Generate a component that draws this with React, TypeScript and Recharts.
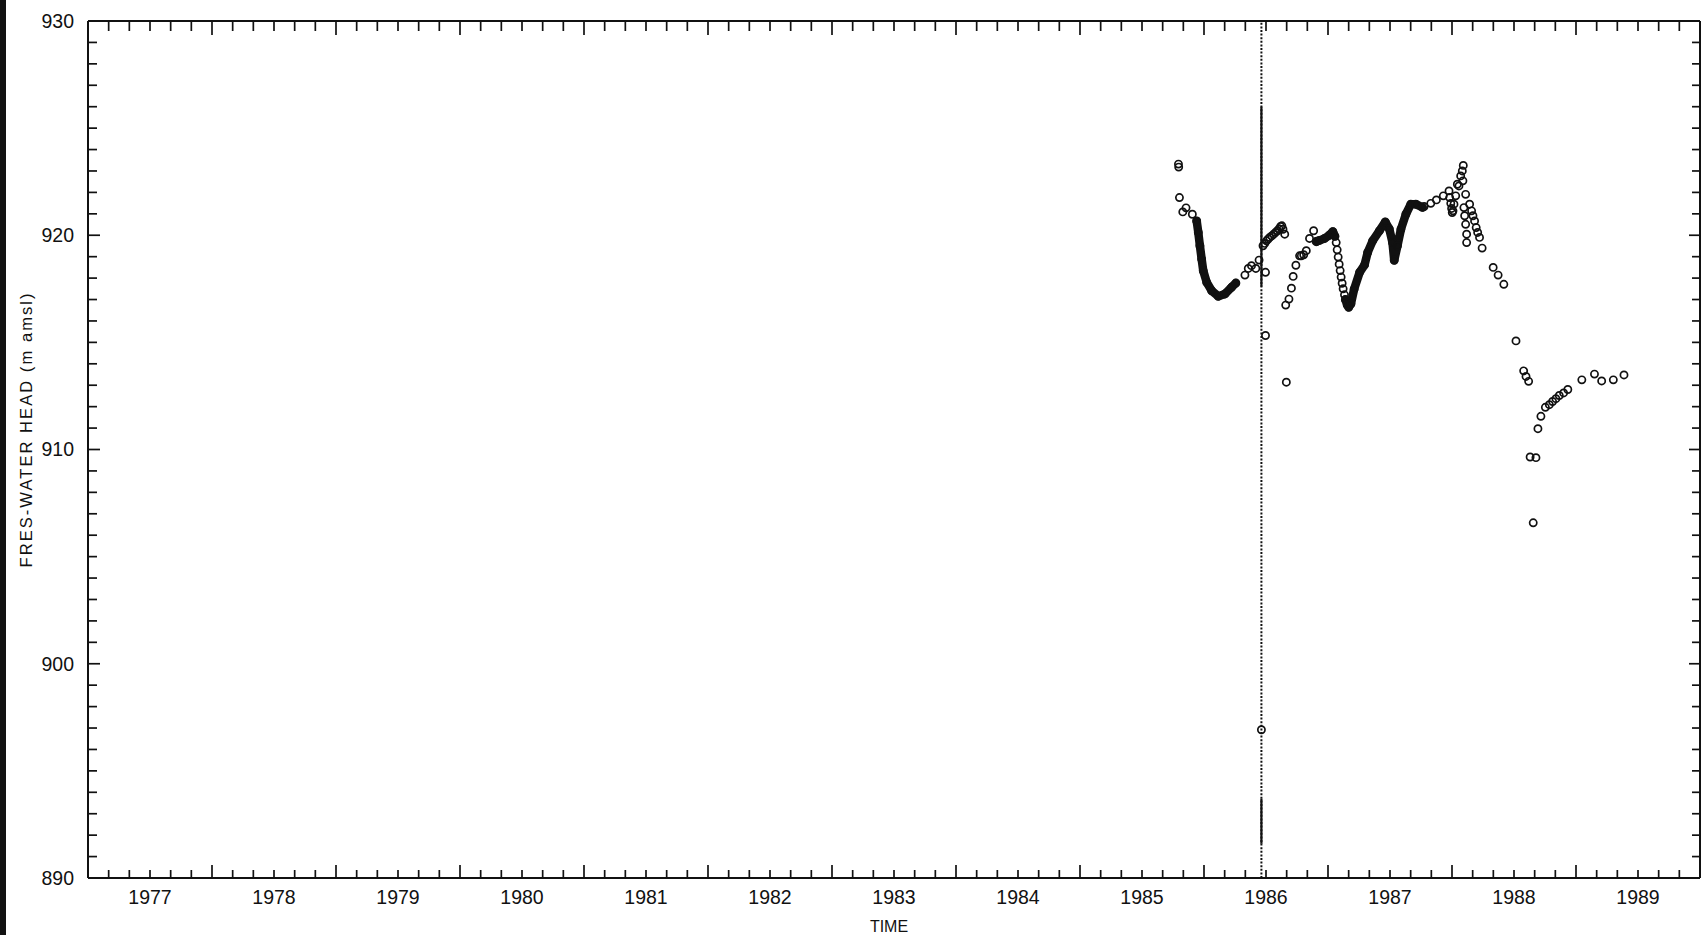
import React from "react";
import { ScatterChart, Scatter, XAxis, YAxis, ReferenceLine } from "recharts";

// [decimal year, fresh-water head in m amsl]
type Pt = [number, number];

const X_MIN = 1976.5;
const X_MAX = 1989.5;
const Y_MIN = 890;
const Y_MAX = 930;

const yearLabels = [1977, 1978, 1979, 1980, 1981, 1982, 1983, 1984, 1985, 1986, 1987, 1988, 1989];
const headLabels = [890, 900, 910, 920, 930];

// isolated readings, spring 1985
const start1985: Pt[] = [
  [1985.294, 923.32], [1985.296, 923.18], [1985.302, 921.76], [1985.329, 921.09],
  [1985.355, 921.28], [1985.406, 920.98],
];

// continuous record, 1985 recession (dense band)
const recession1985: Pt[] = [
  [1985.441, 920.67], [1985.454, 920.13], [1985.467, 919.51], [1985.481, 918.89],
  [1985.494, 918.34], [1985.522, 917.8], [1985.562, 917.41], [1985.615, 917.15],
  [1985.669, 917.26], [1985.722, 917.57], [1985.757, 917.77],
];

const late1985: Pt[] = [
  [1985.83, 918.14], [1985.857, 918.45], [1985.883, 918.58], [1985.918, 918.45],
  [1985.944, 918.84], [1985.996, 918.27], [1985.996, 915.32], [1985.963, 896.92],
];

const jump1986: Pt[] = [
  [1985.976, 919.51], [1985.99, 919.62], [1986.004, 919.74], [1986.017, 919.82],
  [1986.03, 919.9], [1986.046, 919.97], [1986.062, 920.05], [1986.077, 920.13],
  [1986.092, 920.21], [1986.105, 920.3], [1986.118, 920.41], [1986.128, 920.44],
  [1986.137, 920.28], [1986.151, 920.05],
];

const recovery1986: Pt[] = [
  [1986.159, 916.74], [1986.164, 913.14], [1986.185, 917.02], [1986.205, 917.53],
  [1986.219, 918.08], [1986.241, 918.6], [1986.271, 919.04], [1986.285, 919.04],
  [1986.304, 919.09], [1986.325, 919.28], [1986.351, 919.85], [1986.384, 920.21],
  [1986.405, 919.7],
];

const plateau1986: Pt[] = [
  [1986.41, 919.72], [1986.432, 919.76], [1986.472, 919.85], [1986.51, 920.0],
  [1986.539, 920.17], [1986.556, 919.95],
];

const drop1986: Pt[] = [
  [1986.566, 919.66], [1986.574, 919.32], [1986.582, 918.98], [1986.59, 918.65],
  [1986.598, 918.35], [1986.606, 918.05], [1986.614, 917.76], [1986.622, 917.5],
  [1986.633, 917.22],
];

const trough1987: Pt[] = [
  [1986.64, 917.0], [1986.655, 916.75], [1986.667, 916.64], [1986.685, 916.8],
  [1986.711, 917.49], [1986.755, 918.27], [1986.795, 918.62], [1986.82, 919.2],
  [1986.86, 919.74], [1986.914, 920.2], [1986.962, 920.62], [1986.994, 920.3],
  [1987.02, 919.66], [1987.034, 918.83], [1987.06, 919.51], [1987.088, 920.28],
  [1987.128, 920.98], [1987.168, 921.45], [1987.208, 921.45], [1987.262, 921.3],
];

const late1987: Pt[] = [
  [1987.275, 921.34], [1987.329, 921.49], [1987.374, 921.65], [1987.43, 921.84],
  [1987.476, 922.07], [1987.481, 921.76], [1987.49, 921.49], [1987.497, 921.25],
  [1987.502, 921.06], [1987.508, 921.14], [1987.516, 921.45], [1987.53, 921.84],
  [1987.543, 922.38], [1987.556, 922.3], [1987.57, 922.77], [1987.583, 923.0],
  [1987.591, 923.26], [1987.588, 922.54], [1987.61, 921.91], [1987.596, 921.29],
  [1987.602, 920.91], [1987.61, 920.51], [1987.618, 920.05], [1987.618, 919.66],
  [1987.642, 921.45], [1987.658, 921.14], [1987.669, 920.91], [1987.682, 920.67],
  [1987.695, 920.36], [1987.707, 920.13], [1987.722, 919.9], [1987.743, 919.4],
];

const tail1988: Pt[] = [
  [1987.832, 918.5], [1987.872, 918.14], [1987.918, 917.71], [1988.016, 915.07],
  [1988.078, 913.67], [1988.097, 913.41], [1988.118, 913.18], [1988.13, 909.65],
  [1988.177, 909.62], [1988.155, 906.58], [1988.193, 910.97], [1988.217, 911.55],
  [1988.253, 911.97], [1988.285, 912.09], [1988.311, 912.24], [1988.338, 912.37],
  [1988.365, 912.52], [1988.4, 912.64], [1988.434, 912.8], [1988.547, 913.25],
  [1988.649, 913.52], [1988.707, 913.2], [1988.801, 913.25], [1988.887, 913.48],
];

// the pressure test at the turn of 1985/86 plots as a vertical trace
const testYear = 1985.963;
const testSolid: Pt[] = [[917.6, 926.0], [891.6, 893.7]];

const INK = "#111";
const FONT = '"Liberation Sans", Arial, sans-serif';

// minor ticks: every 2 months on time axis, every metre on head axis
const timeTicks = Array.from({ length: (X_MAX - X_MIN) * 6 + 1 }, (_, k) => X_MIN + k / 6);
const headTicks = Array.from({ length: Y_MAX - Y_MIN + 1 }, (_, k) => Y_MIN + k);

const toXY = (pts: Pt[]) => pts.map(([x, y]) => ({ x, y }));

const sparse = [start1985, late1985, jump1986, recovery1986, drop1986, late1987, tail1988];
const dense = [recession1985, plateau1986, trough1987];

const timeKind = (v: number) => {
  const k = Math.round((v - X_MIN) * 6);
  return { k, major: k % 6 === 0, label: k % 6 === 3, edge: k === 0 || k === (X_MAX - X_MIN) * 6 };
};

function BottomTick(props: any) {
  const { x, y, payload } = props;
  const { major, label, edge } = timeKind(payload.value);
  const year = Math.round(payload.value);
  return (
    <g>
      {!edge && <line x1={x} x2={x} y1={y} y2={y - (major ? 13 : 8)} stroke={INK} strokeWidth={1.7} />}
      {label && yearLabels.includes(year) && (
        <text x={x} y={y + 26} textAnchor="middle" fontFamily={FONT} fontSize={19.5} fill={INK}>
          {year}
        </text>
      )}
    </g>
  );
}

function TopTick(props: any) {
  const { x, y, payload } = props;
  const { major, edge } = timeKind(payload.value);
  if (edge) return <g />;
  return <line x1={x} x2={x} y1={y} y2={y + (major ? 14 : 10)} stroke={INK} strokeWidth={1.7} />;
}

function LeftTick(props: any) {
  const { x, y, payload } = props;
  const v = Math.round(payload.value);
  const major = v % 10 === 0;
  const edge = v === Y_MIN || v === Y_MAX;
  return (
    <g>
      {!edge && <line x1={x} x2={x + (major ? 12 : 9)} y1={y} y2={y} stroke={INK} strokeWidth={1.7} />}
      {headLabels.includes(v) && (
        <text x={x - 14} y={y} dy="0.35em" textAnchor="end" fontFamily={FONT} fontSize={19.5} fill={INK}>
          {v}
        </text>
      )}
    </g>
  );
}

function RightTick(props: any) {
  const { x, y, payload } = props;
  const v = Math.round(payload.value);
  if (v === Y_MIN || v === Y_MAX) return <g />;
  return <line x1={x} x2={x - (v % 10 === 0 ? 11 : 8)} y1={y} y2={y} stroke={INK} strokeWidth={1.7} />;
}

function TimeLabel(props: any) {
  const { x, y, width } = props.viewBox;
  return (
    <text x={x + width / 2 - 5} y={y + 54} textAnchor="middle" fontFamily={FONT} fontSize={16} fill={INK}>
      TIME
    </text>
  );
}

function HeadLabel(props: any) {
  const { x, y, height } = props.viewBox;
  const cx = x + 25.5;
  const cy = y + height / 2 - 19;
  return (
    <text
      x={cx}
      y={cy}
      transform={`rotate(-90 ${cx} ${cy})`}
      textAnchor="middle"
      dominantBaseline="central"
      fontFamily={FONT}
      fontSize={16.5}
      fill={INK}
      textLength={274}
      lengthAdjust="spacing"
    >
      FRES-WATER HEAD (m amsl)
    </text>
  );
}

const ring = (p: any) => (
  <circle cx={p.cx} cy={p.cy} r={3.6} fill="none" stroke={INK} strokeWidth={1.7} />
);

export default function App() {
  return (
    <div style={{ position: "absolute", left: 0, top: 0, width: 1708, height: 935, background: "#fff" }}>
      <div style={{ position: "absolute", left: 0, top: 0, width: 6, height: 935, background: INK }} />
      <ScatterChart width={1708} height={935} margin={{ top: 20, right: 7, bottom: 0, left: 0 }}>
        <XAxis
          xAxisId="b"
          type="number"
          dataKey="x"
          domain={[X_MIN, X_MAX]}
          ticks={timeTicks}
          interval={0}
          allowDataOverflow
          height={57}
          tickSize={0}
          tickMargin={0}
          tickLine={false}
          axisLine={{ stroke: INK, strokeWidth: 2 }}
          tick={<BottomTick />}
          label={<TimeLabel />}
        />
        <XAxis
          xAxisId="t"
          orientation="top"
          type="number"
          dataKey="x"
          domain={[X_MIN, X_MAX]}
          ticks={timeTicks}
          interval={0}
          allowDataOverflow
          height={1}
          tickSize={0}
          tickMargin={0}
          tickLine={false}
          axisLine={{ stroke: INK, strokeWidth: 2 }}
          tick={<TopTick />}
        />
        <YAxis
          yAxisId="l"
          type="number"
          dataKey="y"
          domain={[Y_MIN, Y_MAX]}
          ticks={headTicks}
          interval={0}
          allowDataOverflow
          width={88}
          tickSize={0}
          tickMargin={0}
          tickLine={false}
          axisLine={{ stroke: INK, strokeWidth: 2 }}
          tick={<LeftTick />}
          label={<HeadLabel />}
        />
        <YAxis
          yAxisId="r"
          orientation="right"
          type="number"
          dataKey="y"
          domain={[Y_MIN, Y_MAX]}
          ticks={headTicks}
          interval={0}
          allowDataOverflow
          width={1}
          tickSize={0}
          tickMargin={0}
          tickLine={false}
          axisLine={{ stroke: INK, strokeWidth: 2 }}
          tick={<RightTick />}
        />
        <ReferenceLine
          xAxisId="b"
          yAxisId="l"
          segment={[{ x: testYear, y: Y_MIN }, { x: testYear, y: Y_MAX }]}
          stroke={INK}
          strokeWidth={2}
          strokeDasharray="2 1.6"
        />
        {testSolid.map(([lo, hi]) => (
          <ReferenceLine
            key={lo}
            xAxisId="b"
            yAxisId="l"
            segment={[{ x: testYear, y: lo }, { x: testYear, y: hi }]}
            stroke={INK}
            strokeWidth={2.2}
          />
        ))}
        {dense.map((pts, i) => (
          <Scatter
            key={`d${i}`}
            xAxisId="b"
            yAxisId="l"
            data={toXY(pts)}
            dataKey="y"
            line={{ stroke: INK, strokeWidth: 8.5, strokeLinejoin: "round", strokeLinecap: "round" }}
            lineType="joint"
            shape={ring}
            isAnimationActive={false}
          />
        ))}
        {sparse.map((pts, i) => (
          <Scatter
            key={`s${i}`}
            xAxisId="b"
            yAxisId="l"
            data={toXY(pts)}
            dataKey="y"
            shape={ring}
            isAnimationActive={false}
          />
        ))}
      </ScatterChart>
    </div>
  );
}
